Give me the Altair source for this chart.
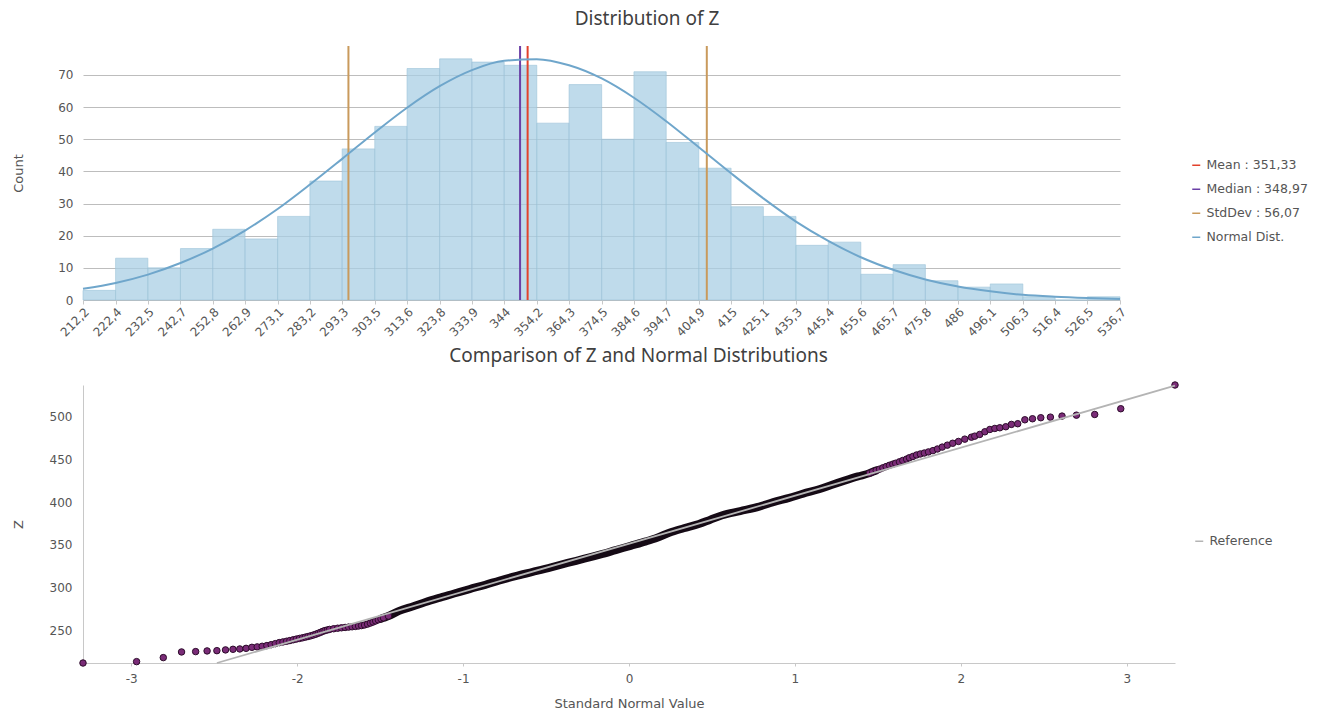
import altair as alt
import pandas as pd

FONT = "DejaVu Sans"
TFONT = "Noto Sans"

# ---------------- Histogram data ----------------
bin_edges = [212.2, 222.4, 232.5, 242.7, 252.8, 262.9, 273.1, 283.2, 293.3, 303.5,
             313.6, 323.8, 333.9, 344, 354.2, 364.3, 374.5, 384.6, 394.7, 404.9,
             415, 425.1, 435.3, 445.4, 455.6, 465.7, 475.8, 486, 496.1, 506.3,
             516.4, 526.5, 536.7]
bin_counts = [3, 13, 10, 16, 22, 19, 26, 37, 47, 54, 72, 75, 74, 73, 55, 67,
              50, 71, 49, 41, 29, 26, 17, 18, 8, 11, 6, 4, 5, 1, 0, 1]
# normal-distribution curve height at each bin edge
normal_curve = [3.5, 5.3, 7.9, 11.5, 16.0, 21.6, 28.3, 35.9, 43.9, 52.1, 59.8,
                66.5, 71.5, 74.4, 74.9, 73.0, 68.9, 62.9, 55.6, 47.5, 39.4, 31.6,
                24.4, 18.4, 13.3, 9.4, 6.4, 4.2, 2.7, 1.6, 1.0, 0.6, 0.3]

stat_labels = ["Mean : 351,33", "Median : 348,97", "StdDev : 56,07", "StdDev : 56,07"]
stat_positions = [351.33, 348.97, 295.26, 407.40]
series_names = ["Mean : 351,33", "Median : 348,97", "StdDev : 56,07", "Normal Dist."]
series_colors = ["#e2412b", "#6a3fa6", "#c99a5c", "#6fa6cb"]

count_ticks = [0, 10, 20, 30, 40, 50, 60, 70]

# ---------------- QQ-plot data ----------------
qq_x = [-3.291, -2.968, -2.807, -2.697, -2.612, -2.543, -2.484, -2.432, -2.387, -2.346,
        -2.308, -2.273, -2.241, -2.211, -2.183, -2.157, -2.132, -2.108, -2.086, -2.064,
        -2.044, -2.024, -2.005, -1.986, -1.968, -1.951, -1.935, -1.919, -1.903, -1.888,
        -1.873, -1.859, -1.845, -1.832, -1.818, -1.805, -1.780, -1.756, -1.733, -1.711,
        -1.690, -1.669, -1.649, -1.630, -1.612, -1.594, -1.576, -1.559, -1.543, -1.527,
        -1.511, -1.495, -1.480, -1.450,
        -1.385, -1.300, -1.230, -1.150, -1.054, -0.960, -0.867, -0.780, -0.684, -0.580,
        -0.470, -0.370, -0.269, -0.170, -0.080, 0.010, 0.103, 0.170, 0.243, 0.330,
        0.421, 0.490, 0.562, 0.670, 0.785, 0.870, 0.966, 1.050, 1.146, 1.220,
        1.299, 1.380,
        1.450, 1.468, 1.490, 1.510, 1.530, 1.550, 1.570, 1.590, 1.607, 1.630,
        1.650, 1.673, 1.690, 1.711, 1.733, 1.756, 1.780, 1.805, 1.832, 1.859,
        1.888, 1.919, 1.951, 1.986, 2.024, 2.064, 2.084, 2.114, 2.145, 2.175,
        2.205, 2.235, 2.271, 2.305, 2.343, 2.386, 2.432, 2.482, 2.540, 2.610,
        2.697, 2.807, 2.964, 3.291]
qq_z = [212.2, 213.8, 218.5, 225.1, 225.5, 226.3, 226.6, 227.5, 228.2, 228.6,
        229.3, 230.5, 231.0, 231.7, 232.5, 233.6, 234.8, 236.0, 236.8, 237.6,
        238.4, 239.3, 240.1, 240.9, 241.6, 242.4, 243.1, 243.9, 244.8, 245.8,
        246.9, 248.0, 249.2, 250.1, 250.8, 251.4, 252.2, 252.8, 253.3, 253.7,
        254.1, 254.5, 254.9, 255.4, 255.9, 256.6, 257.6, 258.8, 260.0, 261.3,
        262.6, 263.8, 264.9, 267.0,
        273.1, 278.5, 283.2, 288.0, 293.3, 298.5, 303.5, 308.5, 313.6, 318.5,
        323.8, 329.0, 333.9, 339.0, 344.0, 349.0, 354.2, 358.5, 364.3, 369.5,
        374.5, 379.5, 384.6, 389.5, 394.7, 400.0, 404.9, 410.0, 415.0, 420.0,
        425.1, 430.0,
        433.8, 435.3, 437.0, 438.5, 440.0, 441.5, 443.0, 444.3, 445.4, 447.0,
        448.6, 450.2, 451.8, 453.3, 455.0, 456.2, 457.3, 458.6, 460.1, 462.0,
        464.2, 466.5, 468.7, 470.8, 473.5, 475.8, 477.0, 479.0, 482.1, 484.8,
        486.0, 486.8, 488.0, 490.7, 491.5, 496.1, 497.3, 498.5, 499.2, 500.4,
        501.5, 502.3, 509.0, 536.7]
ref_x = [-2.484, 3.291]
ref_z = [212.2, 535.9]
qq_xticks = [-3, -2, -1, 0, 1, 2, 3]
qq_zticks = [250, 300, 350, 400, 450, 500]

TOP_W, TOP_H = 1037, 254
BOT_W, BOT_H = 1092, 278

LABEL_COLOR = "#555555"

# ---------------- Top chart: histogram ----------------
hist_df = pd.DataFrame({"x": bin_edges[:-1], "x2": bin_edges[1:], "y": bin_counts})
curve_df = pd.DataFrame({"x": bin_edges, "y": normal_curve,
                         "series": ["Normal Dist."] * len(bin_edges)})
stats_df = pd.DataFrame({"x": stat_positions, "series": stat_labels})

hx = alt.X("x:Q", scale=alt.Scale(domain=[bin_edges[0], bin_edges[-1]], nice=False, zero=False),
           title=None,
           axis=alt.Axis(values=bin_edges, labelAngle=-45, labelOverlap=False,
                         labelFlush=False, grid=False, domain=False,
                         tickColor="#c8c8c8", tickSize=4, labelPadding=2,
                         labelFontSize=12, labelColor=LABEL_COLOR, labelFont=FONT,
                         labelExpr="replace(toString(datum.value), '.', ',')"))
hy = alt.Y("y:Q", scale=alt.Scale(domain=[0, 79], nice=False), title="Count",
           axis=alt.Axis(values=count_ticks, domain=False, ticks=False,
                         gridColor="#bdbdbd", gridWidth=1, labelPadding=10,
                         labelFontSize=12, labelColor=LABEL_COLOR, labelFont=FONT,
                         titleFontSize=13, titleFontWeight="normal", titleColor=LABEL_COLOR,
                         titleFont=FONT, titleX=-65, titleY=TOP_H / 2,
                         titleBaseline="middle", titleAngle=-90))
top_color = alt.Color(
    "series:N", scale=alt.Scale(domain=series_names, range=series_colors),
    legend=alt.Legend(title=None, orient="none", legendX=1107, legendY=113,
                      symbolType="stroke", symbolSize=64, symbolStrokeWidth=1.5,
                      labelFontSize=12.5, labelColor=LABEL_COLOR, labelFont=FONT,
                      rowPadding=11, labelOffset=4))

bars = alt.Chart(hist_df).mark_bar(
    fill="#a9cfe4", fillOpacity=0.75, stroke="#9cc2d8", strokeWidth=0.6
).encode(x=hx, x2="x2:Q", y=hy, y2=alt.datum(0))

rules = alt.Chart(stats_df).mark_rule(strokeWidth=2).encode(x=hx, color=top_color)

curve = alt.Chart(curve_df).mark_line(strokeWidth=2, interpolate="monotone").encode(
    x=hx, y=hy, color=top_color)

top = alt.layer(bars, rules, curve).properties(
    width=TOP_W, height=TOP_H,
    title=alt.TitleParams("Distribution of Z", fontSize=19, font=TFONT, fontWeight="normal",
                          color="#404040", anchor="middle", frame="bounds", offset=16, dx=-13),
)

# ---------------- Bottom chart: QQ plot ----------------
qq_df = pd.DataFrame({"x": qq_x, "z": qq_z})
ref_df = pd.DataFrame({"x": ref_x, "z": ref_z, "name": ["Reference"] * len(ref_x)})

qx = alt.X("x:Q", scale=alt.Scale(domain=[-3.291, 3.291], nice=False, zero=False),
           title="Standard Normal Value",
           axis=alt.Axis(values=qq_xticks, grid=False, domainColor="#c8c8c8",
                         tickColor="#c8c8c8", tickSize=3, labelPadding=7,
                         labelFontSize=12, labelColor=LABEL_COLOR, labelFont=FONT,
                         labelExpr="toString(datum.value)",
                         titleFontSize=13, titleFontWeight="normal", titleColor=LABEL_COLOR,
                         titleFont=FONT, titlePadding=13))
qy = alt.Y("z:Q", scale=alt.Scale(domain=[212.2, 536.7], nice=False, zero=False), title="Z",
           axis=alt.Axis(values=qq_zticks, grid=False, domainColor="#c8c8c8",
                         ticks=False, labelPadding=11,
                         labelFontSize=12, labelColor=LABEL_COLOR, labelFont=FONT,
                         titleFontSize=13, titleFontWeight="normal", titleColor=LABEL_COLOR,
                         titleFont=FONT, titleX=-65, titleY=BOT_H / 2,
                         titleBaseline="middle", titleAngle=-90))

band = alt.Chart(qq_df).transform_filter("abs(datum.x) <= 1.5").mark_line(
    color="#150a15", strokeWidth=8, strokeCap="round", interpolate="monotone"
).encode(x=qx, y=qy)

dots = alt.Chart(qq_df).transform_filter("abs(datum.x) >= 1.44").mark_circle(
    fill="#7a2c77", stroke="#2d0c2b", strokeWidth=1, size=42, opacity=1
).encode(x=qx, y=qy)

ref_line = alt.Chart(ref_df).mark_line(strokeWidth=1.8).encode(
    x=qx, y=qy,
    color=alt.Color("name:N", scale=alt.Scale(domain=["Reference"], range=["#b4b4b4"]),
                    legend=alt.Legend(title=None, orient="none", legendX=1110, legendY=150,
                                      symbolType="stroke", symbolSize=64,
                                      symbolStrokeWidth=1.5, labelFontSize=12.5,
                                      labelColor=LABEL_COLOR, labelFont=FONT, labelOffset=4)),
)

bottom = alt.layer(band, dots, ref_line).properties(
    width=BOT_W, height=BOT_H,
    title=alt.TitleParams("Comparison of Z and Normal Distributions", fontSize=19, font=TFONT,
                          fontWeight="normal", color="#404040", anchor="middle",
                          frame="bounds", offset=14, dx=-4),
)

chart = alt.vconcat(top, bottom, spacing=7).resolve_scale(color="independent").properties(
    padding={"left": 12, "top": 10, "right": 5, "bottom": 0}
).configure_view(stroke=None)

chart.save("out.html", embed_options={"renderer": "svg", "actions": False})
